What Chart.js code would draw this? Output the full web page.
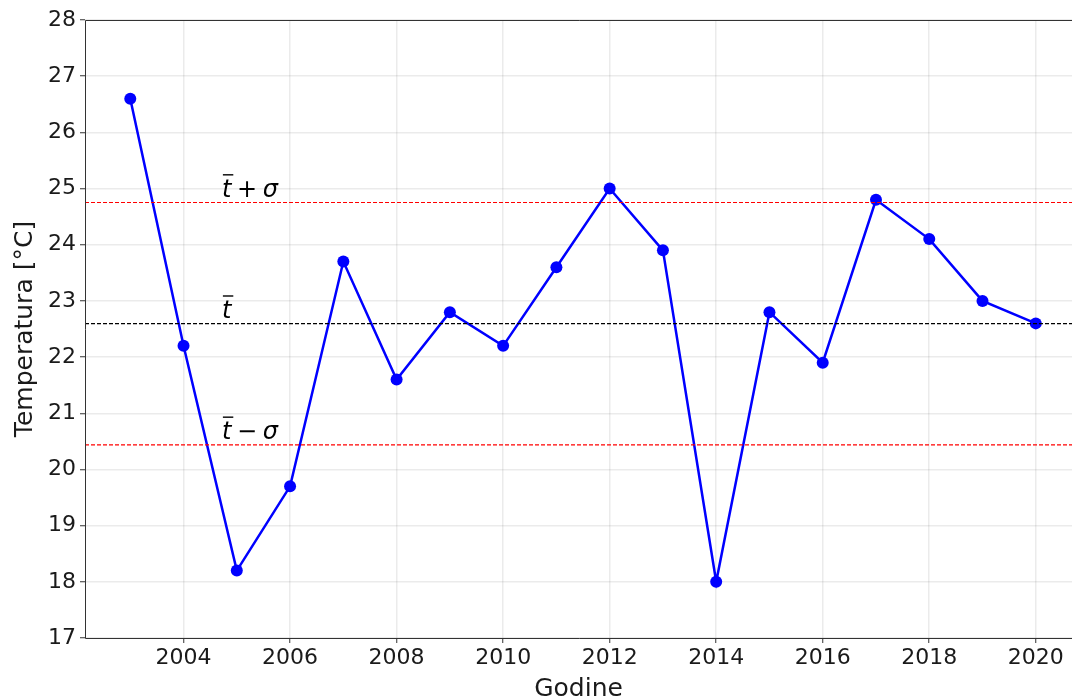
<!DOCTYPE html>
<html>
<head>
<meta charset="utf-8">
<script src="https://cdn.jsdelivr.net/npm/chart.js@4.4.1/dist/chart.umd.min.js"></script>
<style>
    html, body { margin: 0; padding: 0; background: #fff; overflow: hidden; }
    canvas { display: block; }
</style>
</head>
<body>
<canvas id="tempChart" width="1072" height="704"></canvas>
<script>
// Data
const years = [2003, 2004, 2005, 2006, 2007, 2008, 2009, 2010, 2011, 2012,
               2013, 2014, 2015, 2016, 2017, 2018, 2019, 2020];
const temps = [26.6, 22.2, 18.2, 19.7, 23.7, 21.6, 22.8, 22.2, 23.6, 25.0,
               23.9, 18.0, 22.8, 21.9, 24.8, 24.1, 23.0, 22.6];
const xTicks = [2004, 2006, 2008, 2010, 2012, 2014, 2016, 2018, 2020];
const yTicks = [17, 18, 19, 20, 21, 22, 23, 24, 25, 26, 27, 28];

// mean and (population) standard deviation of the series
const meanT = temps.reduce((a, b) => a + b, 0) / temps.length;
const sigmaT = Math.sqrt(temps.reduce((a, b) => a + (b - meanT) ** 2, 0) / temps.length);

// visible x range (the right spine is cut off in the reference)
const xMin = 2002.15, xMax = 2020.68;

function hline(y, color) {
    return {
        data: [{ x: xMin, y: y }, { x: xMax, y: y }],
        borderColor: color,
        borderWidth: 1.2,
        borderDash: [4, 2],
        pointRadius: 0,
        order: 1
    };
}

// left, top and bottom spines
const framePlugin = {
    id: 'frame',
    afterDraw(chart) {
        const a = chart.chartArea, c = chart.ctx;
        c.save();
        c.strokeStyle = '#333';
        c.lineWidth = 1;
        c.beginPath();
        c.moveTo(a.right + 2, a.top + 0.5);
        c.lineTo(a.left + 0.5, a.top + 0.5);
        c.lineTo(a.left + 0.5, a.bottom + 0.5);
        c.lineTo(a.right + 2, a.bottom + 0.5);
        c.stroke();
        c.restore();
    }
};

// text labels t̄, t̄ ± σ
const labelPlugin = {
    id: 'meanLabels',
    afterDatasetsDraw(chart) {
        const c = chart.ctx;
        const xs = chart.scales.x, ys = chart.scales.y;
        const items = [
            { y: meanT + sigmaT, op: '+' },
            { y: meanT, op: null },
            { y: meanT - sigmaT, op: '\u2212' }
        ];
        const fs = 24;
        c.save();
        c.fillStyle = '#000';
        c.textBaseline = 'alphabetic';
        c.textAlign = 'left';
        items.forEach(it => {
            let px = xs.getPixelForValue(2004.72);
            const py = ys.getPixelForValue(it.y + 0.1);
            c.font = `oblique ${fs}px "DejaVu Sans"`;
            const tw = c.measureText('t').width;
            c.fillText('t', px, py);
            // overbar
            c.lineWidth = 1.4;
            c.strokeStyle = '#000';
            c.beginPath();
            c.moveTo(px + 1, py - fs * 0.92);
            c.lineTo(px + tw + 2, py - fs * 0.92);
            c.stroke();
            px += tw;
            if (it.op) {
                c.font = `${fs}px "DejaVu Sans"`;
                const s = ' ' + it.op + ' ';
                c.fillText(s, px - 2, py);
                px += c.measureText(s).width - 4;
                c.font = `oblique ${fs}px "DejaVu Sans"`;
                c.fillText('\u03c3', px, py);
            }
        });
        c.restore();
    }
};

new Chart(document.getElementById('tempChart'), {
    type: 'line',
    data: {
        datasets: [
            {
                data: years.map((y, i) => ({ x: y, y: temps[i] })),
                borderColor: '#0000ff',
                backgroundColor: '#0000ff',
                borderWidth: 2.5,
                pointRadius: 6,
                pointBorderWidth: 0,
                tension: 0,
                order: 2
            },
            hline(meanT + sigmaT, '#ff0000'),
            hline(meanT, '#000000'),
            hline(meanT - sigmaT, '#ff0000')
        ]
    },
    options: {
        responsive: false,
        animation: false,
        layout: { autoPadding: false, padding: { top: 20, right: 0, left: 0, bottom: 0 } },
        plugins: {
            legend: { display: false },
            tooltip: { enabled: false }
        },
        scales: {
            x: {
                type: 'linear',
                min: xMin,
                max: xMax,
                afterBuildTicks: s => { s.ticks = xTicks.map(v => ({ value: v })); },
                afterFit: s => { s.height = 66; },
                ticks: {
                    color: '#1a1a1a',
                    font: { family: 'DejaVu Sans', size: 22 },
                    padding: 2,
                    maxRotation: 0,
                    callback: v => String(v)
                },
                grid: {
                    color: 'rgba(0,0,0,0.08)',
                    lineWidth: 1.5,
                    tickColor: '#333',
                    tickLength: 5,
                    tickWidth: 1
                },
                border: { display: false },
                title: {
                    display: true,
                    text: 'Godine',
                    color: '#1a1a1a',
                    font: { family: 'DejaVu Sans', size: 25 },
                    padding: { top: 0, bottom: 0 }
                }
            },
            y: {
                type: 'linear',
                min: 17,
                max: 28,
                afterBuildTicks: s => { s.ticks = yTicks.map(v => ({ value: v })); },
                afterFit: s => { s.width = 85; },
                ticks: {
                    color: '#1a1a1a',
                    font: { family: 'DejaVu Sans', size: 22 },
                    padding: 4
                },
                grid: {
                    color: 'rgba(0,0,0,0.08)',
                    lineWidth: 1.5,
                    tickColor: '#333',
                    tickLength: 5,
                    tickWidth: 1
                },
                border: { display: false },
                title: {
                    display: true,
                    text: 'Temperatura [°C]',
                    color: '#1a1a1a',
                    font: { family: 'DejaVu Sans', size: 25 },
                    padding: { top: 10, bottom: 0 }
                }
            }
        }
    },
    plugins: [framePlugin, labelPlugin]
});
</script>
</body>
</html>
